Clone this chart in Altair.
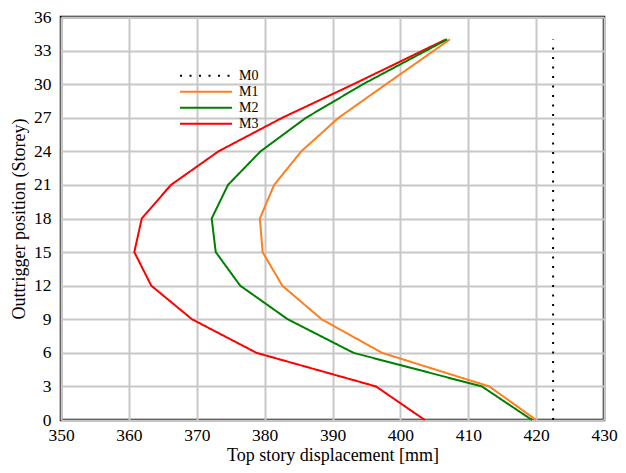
import altair as alt
import pandas as pd

storeys = [0, 3, 6, 9, 12, 15, 18, 21, 24, 27, 30, 34]
m1 = [420.0, 413.1, 397.3, 388.4, 382.6, 379.7, 379.3, 381.4, 385.4, 390.9, 397.9, 407.3]
m2 = [419.4, 412.0, 393.1, 383.4, 376.4, 372.8, 372.2, 374.6, 379.4, 386.1, 394.5, 406.9]
m3 = [403.6, 396.4, 378.8, 369.3, 363.3, 360.8, 361.9, 366.2, 373.2, 382.6, 393.1, 406.7]
m0_storeys = [0, 34]
m0 = [422.5, 422.5]

series = ["M0", "M1", "M2", "M3"]
colors = ["#000000", "#ff7f1e", "#008000", "#ff0000"]
dashes = [[2, 7.5], [1, 0], [1, 0], [1, 0]]

rows = []
for s, v in zip(m0_storeys, m0):
    rows.append({"series": "M0", "storey": s, "disp": v})
for name, vals in [("M3", m3), ("M1", m1), ("M2", m2)]:
    for s, v in zip(storeys, vals):
        rows.append({"series": name, "storey": s, "disp": v})
df = pd.DataFrame(rows)

font = "Liberation Serif"

axis_common = dict(grid=True, ticks=False, domain=False, labelFlush=False,
                   labelFont=font, titleFont=font, labelFontSize=17.5, titleFontSize=18,
                   labelColor="#000", titleColor="#000", titleFontWeight="normal",
                   gridColor="#c8c8c8", gridWidth=2)

chart = alt.Chart(df).mark_line(strokeWidth=2).encode(
    x=alt.X("disp:Q", scale=alt.Scale(domain=[350, 430], nice=False),
            axis=alt.Axis(values=list(range(350, 431, 10)), title="Top story displacement [mm]",
                          labelPadding=6, titlePadding=3, **axis_common)),
    y=alt.Y("storey:Q", scale=alt.Scale(domain=[0, 36], nice=False),
            axis=alt.Axis(values=list(range(0, 37, 3)), title="Outtrigger position (Storey)",
                          labelPadding=10, titlePadding=5, **axis_common)),
    color=alt.Color("series:N", scale=alt.Scale(domain=series, range=colors),
                    legend=alt.Legend(title=None, orient="none", legendX=118, legendY=51,
                                      symbolType="stroke", symbolSize=2700, symbolStrokeWidth=2,
                                      labelFont=font, labelFontSize=14, labelColor="#000",
                                      labelOffset=6, rowPadding=0, clipHeight=15.5)),
    strokeDash=alt.StrokeDash("series:N", scale=alt.Scale(domain=series, range=dashes), legend=None),
    order=alt.Order("storey:Q"),
).properties(
    width=543, height=403,
    autosize=alt.AutoSizeParams(type="none"),
    padding={"left": 53, "top": 9, "right": 14, "bottom": 45},
).configure_view(
    stroke="#000", strokeWidth=2.5
)

chart.save("out.html", embed_options={"renderer": "svg", "actions": False})
